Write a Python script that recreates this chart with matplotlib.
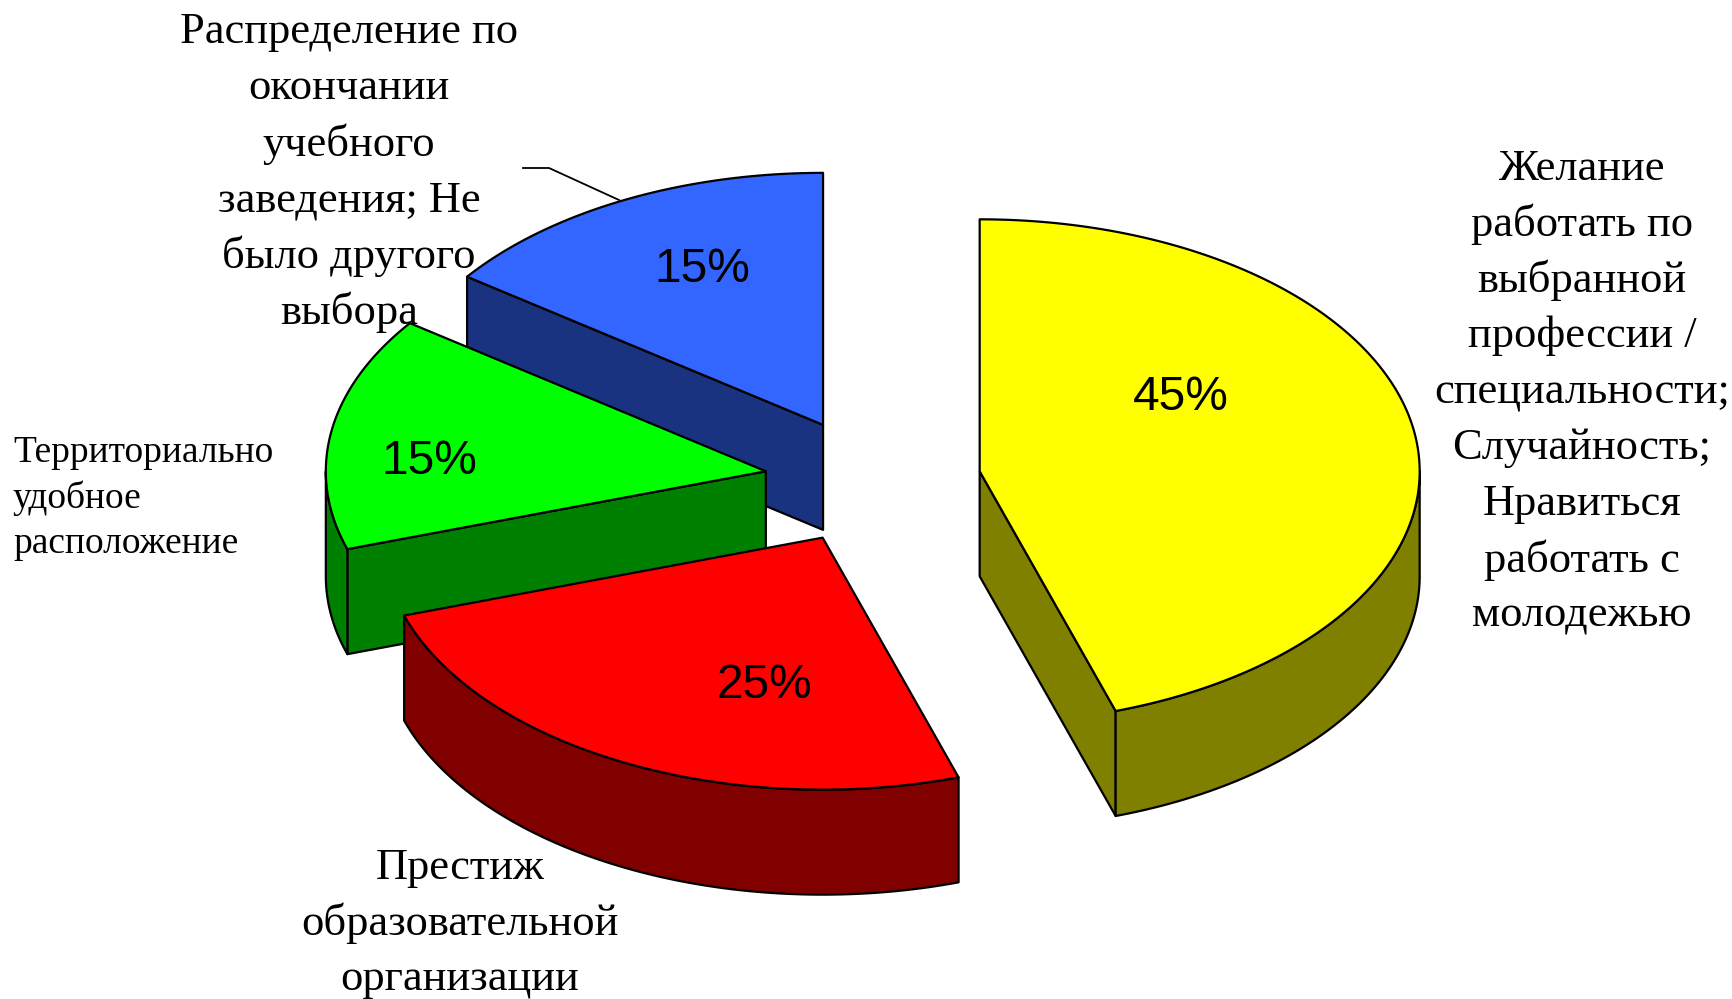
import numpy as np
import matplotlib
matplotlib.use("Agg")
import matplotlib.pyplot as plt
from matplotlib.patches import Polygon

# Data
categories = [
    ["Желание", "работать по", "выбранной", "профессии /", "специальности;",
     "Случайность;", "Нравиться", "работать с", "молодежью"],
    ["Престиж", "образовательной", "организации"],
    ["Территориально", "удобное", "расположение"],
    ["Распределение по", "окончании", "учебного", "заведения; Не", "было другого", "выбора"],
]
values = [45, 25, 15, 15]
pct_labels = ["45%", "25%", "15%", "15%"]

# Styles
top_colors = ["#FFFF00", "#FF0000", "#00FF00", "#3366FF"]
side_colors = ["#808000", "#800000", "#008000", "#1A3380"]
explode_px = [108, 111, 108.5, 110]
RX, RY, DEPTH = 440.0, 252.0, 105.0
CX, CY = 873.0, 481.0
LW = 1.6

W, H = 1733, 999
fig = plt.figure(figsize=(W / 100, H / 100), dpi=100, facecolor="white")
ax = fig.add_axes([0, 0, 1, 1])
ax.set_xlim(0, W)
ax.set_ylim(H, 0)
ax.axis("off")


def pt(cx, cy, deg):
    a = np.radians(deg)
    return cx + RX * np.sin(a), cy - RY * np.cos(a)


def arc(cx, cy, d0, d1):
    t = np.linspace(d0, d1, 200)
    return np.column_stack(pt(cx, cy, t))


def face(points, color, z):
    ax.add_patch(Polygon(points, closed=True, facecolor=color, edgecolor="black",
                         linewidth=LW, joinstyle="round", zorder=z))


edges = np.concatenate([[0], np.cumsum(values)]) / sum(values) * 360.0
draw_order = [3, 2, 1, 0]
for z, i in enumerate(draw_order):
    d0, d1 = edges[i], edges[i + 1]
    mid = (d0 + d1) / 2
    m = np.radians(mid)
    cx = CX + explode_px[i] * np.sin(m)
    cy = CY - explode_px[i] * np.cos(m) * RY / RX
    base = z * 10 + 1
    down = np.array([0, DEPTH])
    apex = np.array([cx, cy])
    # radial cut faces that look towards the viewer
    for ang, normal in ((d0, d0 - 90), (d1, d1 + 90)):
        if np.cos(np.radians(normal)) < -1e-6:
            p = np.array(pt(cx, cy, ang))
            face([apex, p, p + down, apex + down], side_colors[i], base)
    # outer rim, visible part
    r0, r1 = max(d0, 90), min(d1, 270)
    if r1 > r0:
        rim = arc(cx, cy, r0, r1)
        face(np.vstack([rim, (rim + down)[::-1]]), side_colors[i], base + 1)
    # top
    face(np.vstack([apex, arc(cx, cy, d0, d1)]), top_colors[i], base + 2)

SERIF = "Liberation Serif"
SANS = "Liberation Sans"


def label(lines, x, y0, step, size, ha="center"):
    for k, s in enumerate(lines):
        ax.text(x, y0 + k * step, s, family=SERIF, fontsize=size, ha=ha,
                va="center_baseline", color="black", zorder=100)


label(categories[0], 1582, 164, 55.9, 32)
label(categories[1], 460, 863, 55.9, 32)
label(categories[2], 13, 449, 45.3, 27, ha="left")
label(categories[3], 349, 28, 55.9, 32)

pct_pos = [(1181, 392), (765, 681), (429, 456), (702, 264)]
for s, (x, y) in zip(pct_labels, pct_pos):
    ax.text(x, y, s, family=SANS, fontsize=34.5, ha="center", va="center_baseline",
            color="black", zorder=100)

# leader line
ax.plot([523, 549, 619], [168, 168, 200], color="black", lw=1.3, zorder=50)

fig.savefig("out.png", dpi=100, facecolor="white")
